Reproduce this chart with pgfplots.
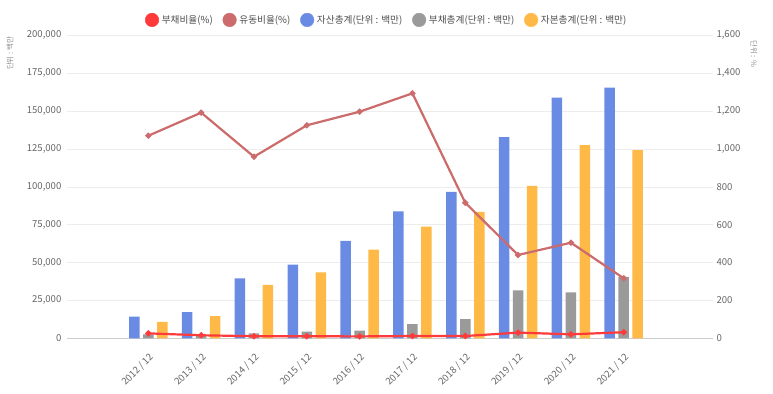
\documentclass[border=0pt]{standalone}
\usepackage{pgfplots}
\pgfplotsset{compat=1.18}
\usepackage{fontspec}
\setmainfont{Noto Sans CJK KR}
\definecolor{cBlue}{HTML}{6A8BE3}
\definecolor{cGray}{HTML}{9A9A9A}
\definecolor{cOrange}{HTML}{FFB947}
\definecolor{cRed}{HTML}{FF3A3A}
\definecolor{cRose}{HTML}{CC6B6B}
\begin{document}
\begin{tikzpicture}
\path[use as bounding box] (0,0) rectangle (773bp,394bp);
\begin{axis}[
  at={(67bp,55.7bp)}, anchor=south west, scale only axis,
  width=646bp, height=302.9bp,
  xmin=-1.54, xmax=10.69, ymin=0, ymax=200000,
  xtick={0,...,9},
  xticklabels={2012 / 12,2013 / 12,2014 / 12,2015 / 12,2016 / 12,2017 / 12,2018 / 12,2019 / 12,2020 / 12,2021 / 12},
  xticklabel style={yshift=-11.5bp, rotate=45, anchor=north east, inner sep=0pt, font=\fontsize{9.6}{11}\selectfont, text=black!60},
  ytick={0,25000,50000,75000,100000,125000,150000,175000,200000},
  scaled y ticks=false,
  /pgf/number format/fixed, /pgf/number format/1000 sep={,}, /pgf/number format/assume math mode=true,
  yticklabel style={font=\fontsize{9.6}{11}\selectfont, text=black!60},
  axis x line=bottom, axis y line=left,
  x axis line style={draw=black!20, line width=1.2bp, -},
  y axis line style={draw=none},
  tick style={draw=none},
  ymajorgrids, grid style={draw=black!7, line width=0.6bp},
  legend style={at={(0.495,1.051)}, anchor=center, draw=none, fill=none,
    font=\fontsize{9.7}{12}\selectfont, text=black!70,
    /tikz/every odd column/.append style={column sep=1bp},
    /tikz/every even column/.append style={column sep=8bp}},
  legend columns=5,
  legend image code/.code={\draw[#1] plot coordinates {(0bp,0bp)};},
]
\addlegendimage{only marks, mark=*, mark size=6.8bp, color=cRed}
\addlegendentry{부채비율(\%)}
\addlegendimage{only marks, mark=*, mark size=6.8bp, color=cRose}
\addlegendentry{유동비율(\%)}
\addlegendimage{only marks, mark=*, mark size=6.8bp, color=cBlue}
\addlegendentry{자산총계(단위 : 백만)}
\addlegendimage{only marks, mark=*, mark size=6.8bp, color=cGray}
\addlegendentry{부채총계(단위 : 백만)}
\addlegendimage{only marks, mark=*, mark size=6.8bp, color=cOrange}
\addlegendentry{자본총계(단위 : 백만)}
\addplot[ybar, bar width=10.5bp, bar shift=-14bp, fill=cBlue, draw=none, forget plot] coordinates {
(0,14300) (1,17200) (2,39600) (3,48600) (4,64300) (5,83800) (6,96600) (7,132900) (8,158900) (9,165500)};
\addplot[ybar, bar width=10.5bp, bar shift=0bp, fill=cGray, draw=none, forget plot] coordinates {
(0,2600) (1,1500) (2,3300) (3,4400) (4,5000) (5,9400) (6,12700) (7,31700) (8,30400) (9,40500)};
\addplot[ybar, bar width=10.5bp, bar shift=14bp, fill=cOrange, draw=none, forget plot] coordinates {
(0,10800) (1,14700) (2,35200) (3,43600) (4,58500) (5,73700) (6,83400) (7,100600) (8,127600) (9,124300)};
\end{axis}
\begin{axis}[
  at={(67bp,55.7bp)}, anchor=south west, scale only axis,
  width=646bp, height=302.9bp,
  xmin=-1.54, xmax=10.69, ymin=0, ymax=1600,
  ytick={0,200,...,1600},
  hide x axis,
  axis y line*=right,
  y axis line style={draw=none},
  tick style={draw=none},
  /pgf/number format/fixed, /pgf/number format/1000 sep={,}, /pgf/number format/assume math mode=true,
  yticklabel style={font=\fontsize{9.6}{11}\selectfont, text=black!60},
]
\addplot[color=cRose, line width=2.2bp, mark=*, mark size=1.8bp] coordinates {
(0,1070) (1,1192) (2,959) (3,1125) (4,1197) (5,1294) (6,716) (7,440) (8,505) (9,317)};
\addplot[color=cRed, line width=2.2bp, mark=*, mark size=1.8bp] coordinates {
(0,26) (1,16) (2,11) (3,11) (4,10) (5,12) (6,12) (7,30) (8,21) (9,32)};
\end{axis}
\node[rotate=90, anchor=east, font=\fontsize{7.5}{8}\selectfont, text=black!45] at (10bp,361bp) {단위 : 백만};
\node[rotate=-90, anchor=west, font=\fontsize{7.5}{8}\selectfont, text=black!45] at (754bp,357bp) {단위 : \%};
\end{tikzpicture}
\end{document}
